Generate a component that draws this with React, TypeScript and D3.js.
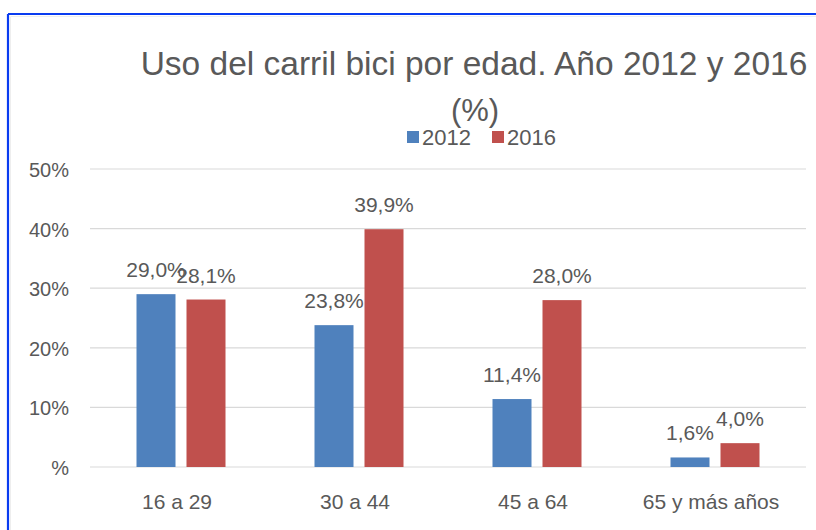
import React from "react";
import * as d3 from "d3";

const categories = ["16 a 29", "30 a 44", "45 a 64", "65 y más años"];
const seriesNames = ["2012", "2016"];
const values2012 = [0.29, 0.238, 0.114, 0.016];
const values2016 = [0.281, 0.399, 0.28, 0.04];
const valueLabels2012 = ["29,0%", "23,8%", "11,4%", "1,6%"];
const valueLabels2016 = ["28,1%", "39,9%", "28,0%", "4,0%"];
const yTicks = [0, 0.1, 0.2, 0.3, 0.4, 0.5];
const yTickLabels = ["%", "10%", "20%", "30%", "40%", "50%"];
const colors = ["#4F81BD", "#C0504D"];

const W = 816;
const H = 530;
const FONT = "'Liberation Sans', Arial, sans-serif";
const TEXT = "#595959";

export default function App() {
  const x0 = d3.scaleBand<string>().domain(categories).range([92, 804]).padding(0);
  const bw = x0.bandwidth();
  const groupW = 89;
  const x1 = d3
    .scaleBand<string>()
    .domain(seriesNames)
    .range([(bw - groupW) / 2, (bw + groupW) / 2])
    .paddingInner(0.22)
    .paddingOuter(0);
  const y = d3.scaleLinear().domain([0, 0.5]).range([467, 169]);

  const series = [
    { name: seriesNames[0], values: values2012, labels: valueLabels2012, color: colors[0] },
    { name: seriesNames[1], values: values2016, labels: valueLabels2016, color: colors[1] },
  ];

  return (
    <svg
      width={W}
      height={H}
      style={{ position: "absolute", left: 0, top: 0, background: "#fff" }}
      fontFamily={FONT}
    >
      <rect x={0} y={0} width={W} height={H} fill="#fff" />
      {/* border */}
      <line x1={8} y1={14} x2={W} y2={14} stroke="#0a3cf0" strokeWidth={2.2} />
      <line x1={8} y1={14} x2={8} y2={H} stroke="#0a3cf0" strokeWidth={2.2} />
      <line x1={10.5} y1={16.5} x2={W} y2={16.5} stroke="#eeeeee" strokeWidth={1} />
      <line x1={10.5} y1={16.5} x2={10.5} y2={H} stroke="#eeeeee" strokeWidth={1} />

      {/* title */}
      <text x={474} y={75} textAnchor="middle" fontSize={33.5} fill={TEXT}>
        Uso del carril bici por edad. Año 2012 y 2016
      </text>
      <text x={475} y={121} textAnchor="middle" fontSize={31} fill={TEXT}>
        (%)
      </text>

      {/* legend */}
      <rect x={407} y={131} width={12} height={12} fill={colors[0]} />
      <text x={422} y={145} fontSize={22} fill={TEXT}>
        {seriesNames[0]}
      </text>
      <rect x={492} y={131} width={12} height={12} fill={colors[1]} />
      <text x={507} y={145} fontSize={22} fill={TEXT}>
        {seriesNames[1]}
      </text>

      {/* gridlines and y labels */}
      {yTicks.map((t, i) => (
        <g key={t}>
          <line x1={90} x2={806} y1={y(t)} y2={y(t)} stroke="#d9d9d9" strokeWidth={1.2} />
          <text
            x={69}
            y={y(t) + 1}
            textAnchor="end"
            dominantBaseline="central"
            fontSize={20}
            fill={TEXT}
          >
            {yTickLabels[i]}
          </text>
        </g>
      ))}

      {/* bars */}
      {series.map((s) =>
        categories.map((c, i) => {
          const bx = (x0(c) as number) + (x1(s.name) as number);
          const by = y(s.values[i]);
          return (
            <g key={s.name + c}>
              <rect x={bx} y={by} width={x1.bandwidth()} height={y(0) - by} fill={s.color} />
              <text
                x={bx + x1.bandwidth() / 2}
                y={by - 17}
                textAnchor="middle"
                fontSize={21}
                fill={TEXT}
              >
                {s.labels[i]}
              </text>
            </g>
          );
        })
      )}

      {/* category labels */}
      {categories.map((c) => (
        <text
          key={c}
          x={(x0(c) as number) + bw / 2 - 4}
          y={509}
          textAnchor="middle"
          fontSize={21}
          fill={TEXT}
        >
          {c}
        </text>
      ))}
    </svg>
  );
}
